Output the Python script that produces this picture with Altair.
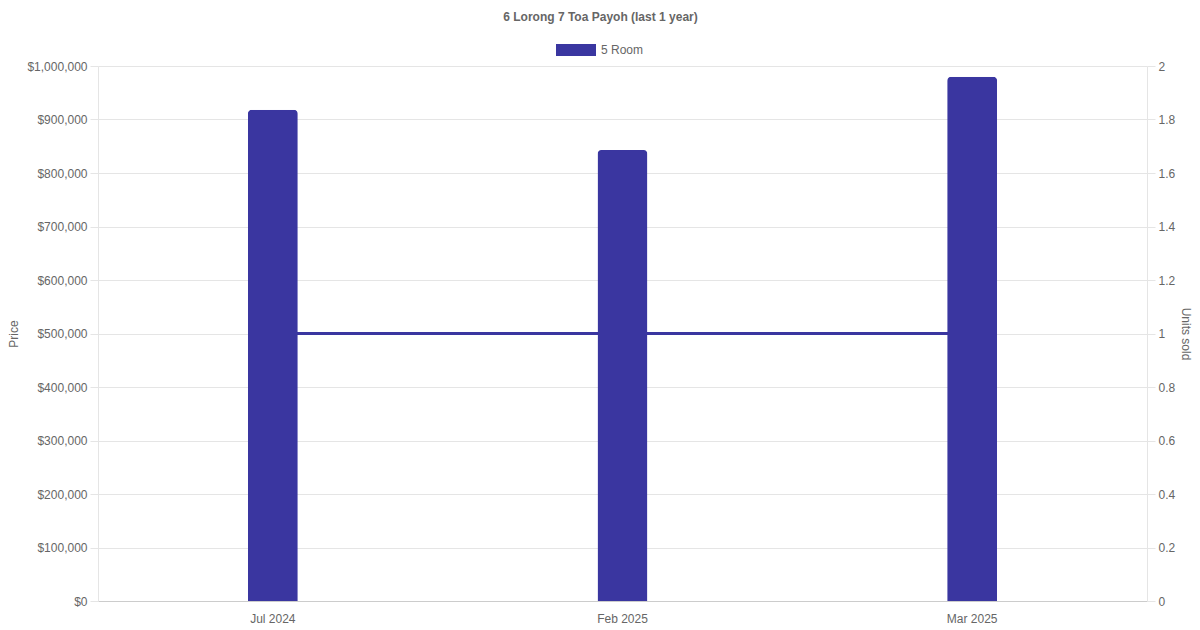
import pandas as pd
import altair as alt

months = ["Jul 2024", "Feb 2025", "Mar 2025"]
prices = [918000, 843000, 980000]
units = [1, 1, 1]
flat_type = ["5 Room", "5 Room", "5 Room"]

price_ticks = [0, 100000, 200000, 300000, 400000, 500000, 600000, 700000, 800000, 900000, 1000000]
unit_ticks = [0, 0.2, 0.4, 0.6, 0.8, 1, 1.2, 1.4, 1.6, 1.8, 2]

BAR = "#3a36a0"
GRID = "#e5e5e5"
TEXT = "#666666"
FONT = "Liberation Sans"

df = pd.DataFrame({"month": months, "price": prices, "units": units, "type": flat_type})

x_enc = alt.X("month:N", sort=months, title=None,
              scale=alt.Scale(paddingInner=0, paddingOuter=0),
              axis=alt.Axis(labelAngle=0, ticks=False, grid=False, domainColor="#cccccc",
                            labelPadding=12, labelFontSize=12, labelColor=TEXT, labelFont=FONT))

line = alt.Chart(df).mark_line(color=BAR, strokeWidth=3).encode(
    x=x_enc,
    y=alt.Y("units:Q", title="Units sold",
            scale=alt.Scale(domain=[0, 2], nice=False),
            axis=alt.Axis(orient="right", values=unit_ticks, format="~g", grid=False,
                          tickSize=8, tickColor=GRID, domainColor=GRID, labelPadding=3,
                          titlePadding=4, labelFontSize=12, labelColor=TEXT, labelFont=FONT,
                          titleFontSize=12, titleColor=TEXT, titleFont=FONT,
                          titleFontWeight="normal")),
)

bars = alt.Chart(df).mark_bar(size=50, cornerRadiusTopLeft=4, cornerRadiusTopRight=4).encode(
    x=x_enc,
    y=alt.Y("price:Q", title="Price",
            scale=alt.Scale(domain=[0, 1000000], nice=False),
            axis=alt.Axis(orient="left", values=price_ticks, format="$,.0f", grid=True,
                          gridColor=GRID, tickSize=8, tickColor=GRID, domainColor=GRID,
                          labelPadding=3, titlePadding=6, labelFontSize=12, labelColor=TEXT,
                          labelFont=FONT, titleFontSize=12, titleColor=TEXT, titleFont=FONT,
                          titleFontWeight="normal")),
    color=alt.Color("type:N", scale=alt.Scale(range=[BAR]),
                    legend=alt.Legend(title=None, orient="none", legendX=458, legendY=-36,
                                      symbolType="M-1,-0.3H1V0.3H-1Z", symbolSize=1600,
                                      symbolStrokeWidth=0, symbolOpacity=1,
                                      labelOffset=5, labelFontSize=12, labelColor=TEXT,
                                      labelFont=FONT)),
)

chart = alt.layer(line, bars).resolve_scale(y="independent").properties(
    width=1049,
    height=535,
    autosize=alt.AutoSizeParams(type="none"),
    padding={"left": 90, "right": 45, "top": 58, "bottom": 29},
    title=alt.TitleParams("6 Lorong 7 Toa Payoh (last 1 year)", anchor="middle", dx=-22,
                          offset=6, fontSize=12, fontWeight="bold", color=TEXT, font=FONT),
).configure_view(strokeWidth=0)

chart.save("out.html", embed_options={"renderer": "svg", "actions": False})
